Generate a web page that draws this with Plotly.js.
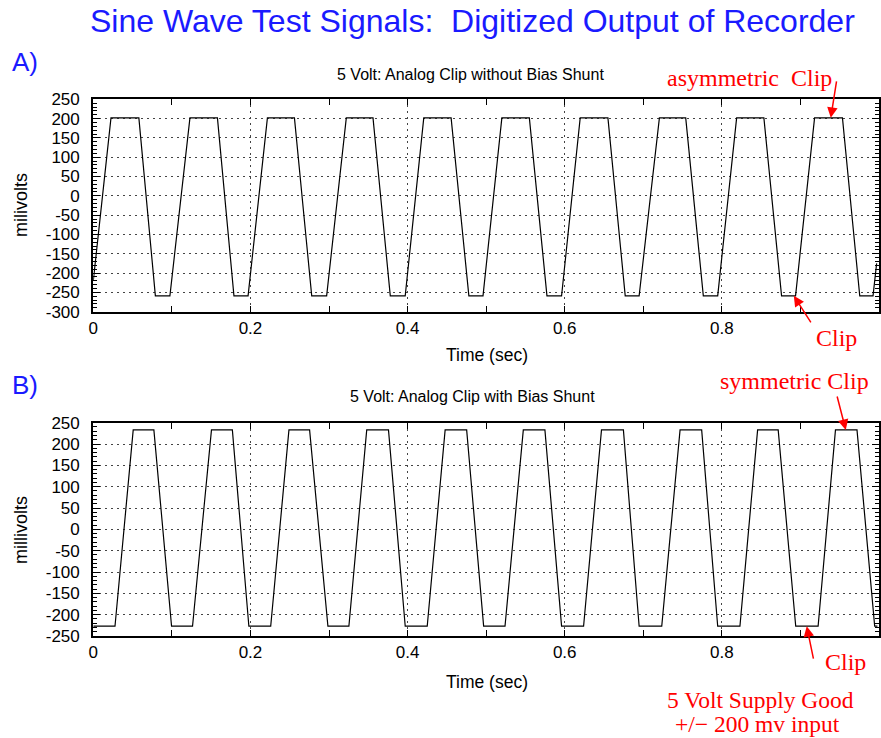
<!DOCTYPE html>
<html>
<head>
<meta charset="utf-8">
<script src="https://cdn.plot.ly/plotly-3.0.1.min.js"></script>
<style>html,body{margin:0;padding:0;background:#fff;}#chart{width:881px;height:738px;}</style>
</head>
<body>
<div id="chart"></div>
<script>
// Panel A: 5 Volt, Analog Clip without Bias Shunt (corner points)
var timeA = [0, 0.0225, 0.058, 0.079, 0.0975, 0.123, 0.158, 0.179, 0.197, 0.2216, 0.256, 0.278, 0.297,
  0.322, 0.356, 0.378, 0.397, 0.4206, 0.4554, 0.478, 0.496, 0.520, 0.555, 0.5774, 0.596, 0.6197, 0.655,
  0.677, 0.6947, 0.7205, 0.754, 0.7764, 0.7947, 0.8188, 0.8535, 0.876, 0.8938, 0.918, 0.9535, 0.9755, 0.9924, 0.997];
var mvA = [-220, 202, 202, -259, -259, 202, 202, -259, -259, 202, 202, -259, -259,
  202, 202, -259, -259, 202, 202, -259, -259, 202, 202, -259, -259, 202, 202,
  -259, -259, 202, 202, -259, -259, 202, 202, -259, -259, 202, 202, -259, -259, -175];

// Panel B: 5 Volt, Analog Clip with Bias Shunt
var timeB = [0, 0.0276, 0.0508, 0.0771, 0.0996, 0.1263, 0.1504, 0.177, 0.198, 0.2258, 0.249, 0.2753,
  0.2986, 0.3253, 0.348, 0.3757, 0.397, 0.425, 0.4478, 0.4752, 0.4968, 0.524, 0.5473, 0.5748, 0.596, 0.624,
  0.6468, 0.6747, 0.6947, 0.7235, 0.7468, 0.7743, 0.7947, 0.823, 0.8455, 0.8717, 0.894, 0.9225, 0.9446, 0.972, 0.9945, 0.998];
var mvB = [-227, -227, 233, 233, -227, -227, 233, 233, -227, -227, 233, 233,
  -227, -227, 233, 233, -227, -227, 233, 233, -227, -227, 233, 233, -227, -227,
  233, 233, -227, -227, 233, 233, -227, -227, 233, 233, -227, -227, 233, 233, -227, -227];

var xTickVals = [0, 0.2, 0.4, 0.6, 0.8, 1];
var xTickText = ['0', '0.2', '0.4', '0.6', '0.8', '1'];
var yTickValsA = [-300, -250, -200, -150, -100, -50, 0, 50, 100, 150, 200, 250];
var yTickValsB = [-250, -200, -150, -100, -50, 0, 50, 100, 150, 200, 250];

var W = 881, H = 738;
function px(x) { return x / W; }
function py(y) { return 1 - y / H; }

var SANS = 'Liberation Sans, Arial, sans-serif';
var SERIF = 'Liberation Serif, Times New Roman, serif';
var BLUE = '#1a1aff';
var RED = '#ff0000';

function xAxis(anchor) {
  return {
    anchor: anchor, domain: [px(93.3), px(879)], range: [0, 1],
    tickmode: 'array', tickvals: xTickVals, ticktext: xTickText,
    ticks: 'inside', ticklen: 6, tickwidth: 1, tickcolor: '#000',
    showline: true, linewidth: 2, linecolor: '#000', mirror: 'allticks',
    showgrid: true, gridcolor: '#444', gridwidth: 1, griddash: '2px,4px',
    zeroline: false, tickfont: {family: SANS, size: 17, color: '#000'},
    minor: {dtick: 0.1, tick0: 0, ticks: 'inside', ticklen: 6, tickcolor: '#000', showgrid: false},
    fixedrange: true
  };
}
function yAxis(anchor, dom, rng, vals) {
  return {
    anchor: anchor, domain: dom, range: rng,
    tickmode: 'array', tickvals: vals,
    ticktext: vals.map(function (v) { return String(v) + '\u00a0\u2009'; }),
    ticks: 'inside', ticklen: 7, tickwidth: 1, tickcolor: '#000',
    showline: true, linewidth: 2, linecolor: '#000', mirror: 'allticks',
    showgrid: true, gridcolor: '#444', gridwidth: 1, griddash: '2px,4px',
    zeroline: false, tickfont: {family: SANS, size: 17, color: '#000'},
    minor: {dtick: 10, tick0: 0, ticks: 'inside', ticklen: 4, tickcolor: '#000', showgrid: false},
    fixedrange: true
  };
}

var traces = [
  {x: timeA, y: mvA, type: 'scatter', mode: 'lines', xaxis: 'x', yaxis: 'y',
   line: {color: '#000', width: 1.2}, hoverinfo: 'skip'},
  {x: timeB, y: mvB, type: 'scatter', mode: 'lines', xaxis: 'x2', yaxis: 'y2',
   line: {color: '#000', width: 1.2}, hoverinfo: 'skip'}
];

function txt(text, x, y, size, color, family) {
  return {text: text, xref: 'paper', yref: 'paper', x: px(x), y: py(y),
    xanchor: 'center', yanchor: 'middle', showarrow: false,
    font: {family: family || SANS, size: size, color: color || '#000'}};
}
function arrow(xr, yr, x, y, ax, ay) {
  return {text: '', xref: xr, yref: yr, x: x, y: y, ax: ax, ay: ay,
    showarrow: true, arrowhead: 2, arrowsize: 1.4, arrowwidth: 1.5, arrowcolor: RED};
}

var annotations = [
  txt('Sine Wave Test Signals:  Digitized Output of Recorder', 472, 21, 32, BLUE),
  txt('A)', 25, 62, 26, BLUE),
  txt('B)', 25, 385, 26, BLUE),
  txt('5 Volt: Analog Clip without Bias Shunt', 471, 74, 16),
  txt('5 Volt: Analog Clip with Bias Shunt', 472, 396, 16),
  txt('Time (sec)', 487, 355, 17.5),
  txt('Time (sec)', 487, 682, 17.5),
  Object.assign(txt('milivolts', 21, 205, 18), {textangle: -90}),
  Object.assign(txt('millivolts', 21, 530, 18), {textangle: -90}),
  txt('asymmetric\u00a0 Clip', 749, 78, 24, RED, SERIF),
  txt('Clip', 836, 338, 24, RED, SERIF),
  txt('symmetric Clip', 794, 381, 24, RED, SERIF),
  txt('Clip', 845, 662, 24, RED, SERIF),
  txt('5 Volt Supply Good', 760, 700, 23.5, RED, SERIF),
  txt('+/\u2212 200 mv input', 757, 724, 23.5, RED, SERIF),
  arrow('x', 'y', 0.9386, 202, 6, -38),
  arrow('x', 'y', 0.8916, -259, 18, 28),
  arrow('x2', 'y2', 0.9577, 233, -9, -35),
  arrow('x2', 'y2', 0.908, -227, 7, 34)
];

var layout = {
  width: W, height: H,
  margin: {l: 0, r: 0, t: 0, b: 0},
  paper_bgcolor: '#fff', plot_bgcolor: '#fff',
  showlegend: false,
  xaxis: xAxis('y'),
  yaxis: yAxis('x', [py(311.7), py(99.3)], [-300, 250], yTickValsA),
  xaxis2: xAxis('y2'),
  yaxis2: yAxis('x2', [py(636), py(422.7)], [-250, 250], yTickValsB),
  annotations: annotations
};

Plotly.newPlot('chart', traces, layout, {displayModeBar: false, staticPlot: true});
</script>
</body>
</html>
